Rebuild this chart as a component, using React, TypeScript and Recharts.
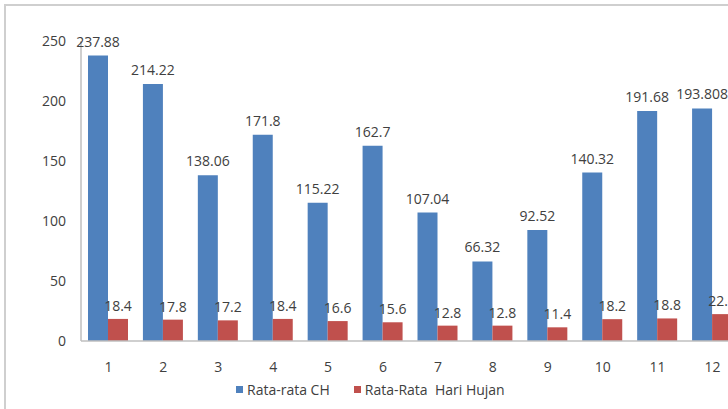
import { BarChart, Bar, XAxis, YAxis, Legend, LabelList } from "recharts";

const months = ["1", "2", "3", "4", "5", "6", "7", "8", "9", "10", "11", "12"];
const rataCH = [237.88, 214.22, 138.06, 171.8, 115.22, 162.7, 107.04, 66.32, 92.52, 140.32, 191.68, 193.808];
const hariHujan = [18.4, 17.8, 17.2, 18.4, 16.6, 15.6, 12.8, 12.8, 11.4, 18.2, 18.8, 22.4];
const yTicks = [0, 50, 100, 150, 200, 250];
const seriesOrder = ["ch", "hh"];

const data = months.map((m, i) => ({ bulan: m, ch: rataCH[i], hh: hariHujan[i] }));

const TEXT = "#404040";
const FONT = "'Open Sans', sans-serif";

function LegendContent({ payload }: any) {
  const items = [...(payload || [])].sort(
    (a: any, b: any) => seriesOrder.indexOf(a.dataKey) - seriesOrder.indexOf(b.dataKey)
  );
  return (
    <div style={{ display: "flex", fontFamily: FONT, fontSize: 14, color: TEXT }}>
      {items.map((p: any, i: number) => (
        <div key={i} style={{ display: "flex", alignItems: "center", marginRight: 24 }}>
          <span style={{ width: 7, height: 7, background: p.color, marginRight: 4, display: "inline-block" }} />
          <span style={{ whiteSpace: "pre" }}>{p.value}</span>
        </div>
      ))}
    </div>
  );
}

export default function App() {
  return (
    <div style={{ position: "fixed", left: 0, top: 0, width: 728, height: 409, overflow: "hidden", background: "#fff" }}>
      <div
        style={{
          position: "absolute",
          left: 4,
          top: 4,
          width: 780,
          height: 500,
          border: "2px solid #cfcfcf",
        }}
      />
      <div style={{ position: "absolute", left: 0, top: 0 }}>
        <BarChart
          width={760}
          height={409}
          data={data}
          margin={{ top: 41, right: 20, left: 21, bottom: 38 }}
          barGap={0}
          style={{ fontFamily: FONT }}
        >
          <XAxis
            dataKey="bulan"
            height={30}
            tickSize={0}
            tickMargin={21}
            axisLine={{ stroke: "#bfbfbf", strokeWidth: 1.5 }}
            tick={{ fill: TEXT, fontSize: 14 }}
          />
          <YAxis
            width={60}
            domain={[0, 250]}
            ticks={yTicks}
            tickSize={0}
            tickMargin={15}
            axisLine={{ stroke: "#bfbfbf", strokeWidth: 1.5 }}
            tick={{ fill: TEXT, fontSize: 14 }}
          />
          <Legend
            layout="horizontal"
            verticalAlign="middle"
            align="center"
            wrapperStyle={{ top: 380, left: 236, width: "auto" }}
            content={<LegendContent />}
          />
          <Bar dataKey="ch" name="Rata-rata CH" fill="#4f81bd" barSize={20} isAnimationActive={false}>
            <LabelList dataKey="ch" position="top" offset={9} fill={TEXT} fontSize={14} />
          </Bar>
          <Bar dataKey="hh" name="Rata-Rata  Hari Hujan" fill="#c0504d" barSize={20} isAnimationActive={false}>
            <LabelList dataKey="hh" position="top" offset={8} fill={TEXT} fontSize={14} />
          </Bar>
        </BarChart>
      </div>
    </div>
  );
}
